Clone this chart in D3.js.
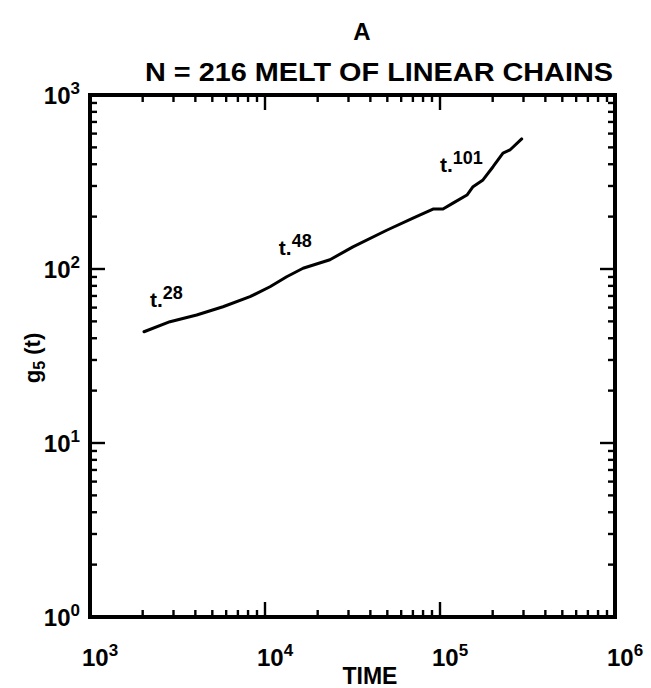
<!DOCTYPE html>
<html>
<head>
<meta charset="utf-8">
<script src="https://cdn.jsdelivr.net/npm/d3@7"></script>
<style>
  body { margin: 0; background: #fff; }
  svg { display: block; }
  text { font-family: "Liberation Sans", Arial, sans-serif; font-weight: bold; fill: #000; }
</style>
</head>
<body>
<svg id="canvas" width="651" height="688"></svg>
<script>
// g5(t) vs time
let timeValues = [2035, 2865, 4070, 5754, 8210, 10680, 13300, 16500, 23500, 31800,
                  49600, 70100, 91200, 104000, 118600, 142600, 154400, 176000,
                  201000, 229000, 251000, 293000];
let g5Values = [43.6, 49.8, 54.4, 60.7, 69.3, 79.1, 90.3, 101, 113, 134,
                167, 196, 221, 221, 239, 266, 297, 325,
                387, 464, 483, 559];

// slope annotations (anchor in data units)
let slopeLabels = ['28', '48', '101'];
let slopeTimes = [2200, 12000, 100000];
let slopeG5 = [60.5, 120, 360];

let xDecades = [1e3, 1e4, 1e5, 1e6];
let yDecades = [1e0, 1e1, 1e2, 1e3];
let xExponents = ['3', '4', '5', '6'];
let yExponents = ['0', '1', '2', '3'];

let canvas = d3.select('#canvas');

let plotLeft = 90, plotRight = 615, plotTop = 95, plotBottom = 617;

let xScale = d3.scaleLog().domain([1e3, 1e6]).range([plotLeft, plotRight]);
let yScale = d3.scaleLog().domain([1e0, 1e3]).range([plotBottom, plotTop]);

let xTicks = xScale.ticks();
let yTicks = yScale.ticks();

let isDecade = (v) => {
    let l = Math.log10(v);
    return Math.abs(l - Math.round(l)) < 1e-9;
};

// frame
canvas.append('rect')
    .attr('x', plotLeft)
    .attr('y', plotTop)
    .attr('width', plotRight - plotLeft)
    .attr('height', plotBottom - plotTop)
    .attr('fill', 'none')
    .attr('stroke', '#000')
    .attr('stroke-width', 4);

// ticks on all four sides, pointing in
let tickGroup = canvas.append('g').attr('stroke', '#000').attr('stroke-width', 2.4);

xTicks.forEach((v) => {
    let len = isDecade(v) ? 15 : 7;
    let x = xScale(v);
    tickGroup.append('line').attr('x1', x).attr('x2', x).attr('y1', plotBottom).attr('y2', plotBottom - len);
    tickGroup.append('line').attr('x1', x).attr('x2', x).attr('y1', plotTop).attr('y2', plotTop + len);
});

yTicks.forEach((v) => {
    let len = isDecade(v) ? 15 : 7;
    let y = yScale(v);
    tickGroup.append('line').attr('x1', plotLeft).attr('x2', plotLeft + len).attr('y1', y).attr('y2', y);
    tickGroup.append('line').attr('x1', plotRight).attr('x2', plotRight - len).attr('y1', y).attr('y2', y);
});

// tick labels
xDecades.forEach((v, i) => {
    let t = canvas.append('text')
        .attr('x', xScale(v) - 8)
        .attr('y', 666)
        .attr('font-size', 24);
    t.append('tspan').text('10');
    t.append('tspan').attr('font-size', 17).attr('dy', -10).text(xExponents[i]);
});

yDecades.forEach((v, i) => {
    let t = canvas.append('text')
        .attr('x', plotLeft - 10)
        .attr('y', yScale(v) + 9)
        .attr('text-anchor', 'end')
        .attr('font-size', 24);
    t.append('tspan').text('10');
    t.append('tspan').attr('font-size', 17).attr('dy', -10).text(yExponents[i]);
});

// curve
let points = timeValues.map((t, i) => [t, g5Values[i]]);
let line = d3.line()
    .x((d) => xScale(d[0]))
    .y((d) => yScale(d[1]));

canvas.append('path')
    .datum(points)
    .attr('d', line)
    .attr('fill', 'none')
    .attr('stroke', '#000')
    .attr('stroke-width', 3)
    .attr('stroke-linejoin', 'round')
    .attr('stroke-linecap', 'round');

// slope labels  t.NN
slopeLabels.forEach((s, i) => {
    let t = canvas.append('text')
        .attr('x', xScale(slopeTimes[i]))
        .attr('y', yScale(slopeG5[i]))
        .attr('font-size', 21);
    t.append('tspan').text('t.');
    t.append('tspan').attr('font-size', 18).attr('dy', -8).text(s);
});

// titles
canvas.append('text')
    .attr('x', 362)
    .attr('y', 40)
    .attr('text-anchor', 'middle')
    .attr('font-size', 24)
    .text('A');

canvas.append('text')
    .attr('x', 379)
    .attr('y', 81)
    .attr('text-anchor', 'middle')
    .attr('font-size', 25)
    .attr('textLength', 468)
    .attr('lengthAdjust', 'spacingAndGlyphs')
    .text('N = 216 MELT OF LINEAR CHAINS');

canvas.append('text')
    .attr('x', 370)
    .attr('y', 684)
    .attr('text-anchor', 'middle')
    .attr('font-size', 23)
    .text('TIME');

let yLab = canvas.append('text')
    .attr('transform', 'translate(40,358) rotate(-90)')
    .attr('text-anchor', 'middle')
    .attr('font-size', 22);
yLab.append('tspan').text('g');
yLab.append('tspan').attr('font-size', 16).attr('dy', 5).text('5');
yLab.append('tspan').attr('dy', -5).text(' (t)');
</script>
</body>
</html>
